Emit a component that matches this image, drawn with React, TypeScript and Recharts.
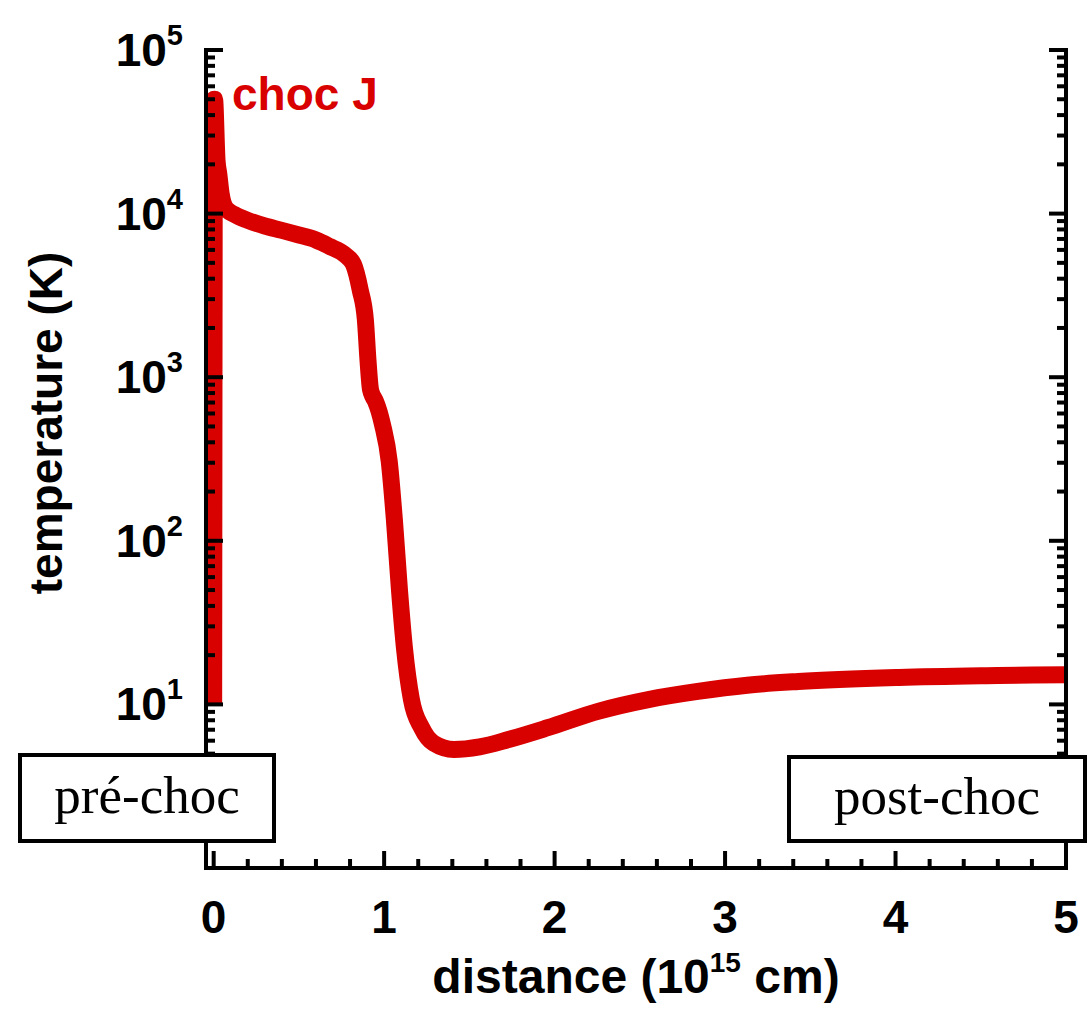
import { LineChart, Line, XAxis, YAxis, Legend } from 'recharts';

// distance in 10^15 cm, temperature in K
const distance = [
  0, 0.005, 0.02, 0.03, 0.045, 0.07, 0.12, 0.2, 0.3, 0.4, 0.5, 0.6, 0.68, 0.77, 0.82, 0.86, 0.89,
  0.905, 0.92, 0.935, 0.95, 0.99, 1.03, 1.06, 1.09, 1.12, 1.16, 1.22, 1.29, 1.41, 1.56, 1.73, 1.96,
  2.26, 2.55, 2.84, 3.13, 3.43, 4.02, 4.6, 5.0,
];
const temperature = [
  10, 50000, 21000, 17500, 13000, 10800, 9900, 9100, 8400, 7900, 7400, 6900, 6300, 5600, 4900, 3400,
  2240, 1280, 840, 760, 710, 515, 305, 135, 50, 21.7, 10.7, 7.2, 5.8, 5.3, 5.5, 6.1, 7.2, 9.1, 10.7,
  12.0, 13.1, 13.8, 14.6, 15.0, 15.2,
];

const xMajorTicks = [0, 1, 2, 3, 4, 5];
const xMinorTicks = [
  0.2, 0.4, 0.6, 0.8, 1.2, 1.4, 1.6, 1.8, 2.2, 2.4, 2.6, 2.8, 3.2, 3.4, 3.6, 3.8, 4.2, 4.4, 4.6, 4.8,
];
const yMajorTicks = [10, 100, 1000, 10000, 100000];
const yExponents = ['1', '2', '3', '4', '5'];
const yMinorTicks = [
  2, 3, 4, 5, 6, 7, 8, 9,
  20, 30, 40, 50, 60, 70, 80, 90,
  200, 300, 400, 500, 600, 700, 800, 900,
  2000, 3000, 4000, 5000, 6000, 7000, 8000, 9000,
  20000, 30000, 40000, 50000, 60000, 70000, 80000, 90000,
];

const data = distance.map((d, i) => ({ d, T: temperature[i] }));

const RED = '#d90000';
const SANS = '"Liberation Sans", Arial, Helvetica, sans-serif';
const SERIF = '"Liberation Serif", "Times New Roman", serif';

const MAJOR_LEN = 17;
const MINOR_LEN = 9;

function XTick({ x, y, payload, side }: any) {
  const major = xMajorTicks.includes(payload.value);
  const len = major ? MAJOR_LEN : MINOR_LEN;
  const dir = side === 'bottom' ? -1 : 1;
  return (
    <g>
      <line x1={x} x2={x} y1={y} y2={y + dir * len} stroke="#000" strokeWidth={4} />
      {side === 'bottom' && major && (
        <text x={x} y={y + 65} textAnchor="middle" fontFamily={SANS} fontWeight={700} fontSize={46} fill="#000">
          {payload.value}
        </text>
      )}
    </g>
  );
}

function YTick({ x, y, payload, side }: any) {
  const idx = yMajorTicks.indexOf(payload.value);
  const major = idx >= 0;
  const len = major ? MAJOR_LEN : MINOR_LEN;
  const dir = side === 'left' ? 1 : -1;
  return (
    <g>
      <line x1={x} x2={x + dir * len} y1={y} y2={y} stroke="#000" strokeWidth={4} />
      {side === 'left' && major && (
        <text x={x - 23} y={y + 16} textAnchor="end" fontFamily={SANS} fontWeight={700} fill="#000">
          <tspan fontSize={46}>10</tspan>
          <tspan fontSize={29} dy={-21}>{yExponents[idx]}</tspan>
        </text>
      )}
    </g>
  );
}

function XTitle({ viewBox }: any) {
  const cx = viewBox.x + viewBox.width / 2;
  return (
    <text x={cx} y={viewBox.y + 125} textAnchor="middle" fontFamily={SANS} fontWeight={700} fill="#000">
      <tspan fontSize={48}>distance (10</tspan>
      <tspan fontSize={28} dy={-21}>15</tspan>
      <tspan fontSize={48} dy={21}> cm)</tspan>
    </text>
  );
}

function YTitle({ viewBox }: any) {
  const cx = viewBox.x + 62;
  const cy = viewBox.y + viewBox.height / 2 - 36;
  return (
    <text
      x={cx}
      y={cy}
      transform={`rotate(-90 ${cx} ${cy})`}
      textAnchor="middle"
      fontFamily={SANS}
      fontWeight={700}
      fontSize={46}
      fill="#000"
    >
      temperature (K)
    </text>
  );
}

const boxStyle: React.CSSProperties = {
  position: 'absolute',
  boxSizing: 'border-box',
  border: '4px solid #000',
  background: '#fff',
  fontFamily: SERIF,
  fontSize: 53,
  color: '#000',
  display: 'flex',
  alignItems: 'center',
  justifyContent: 'center',
  lineHeight: 1,
  paddingBottom: 6,
};

export default function App() {
  const xTicks = [...xMajorTicks, ...xMinorTicks].sort((a, b) => a - b);
  const yTicks = [...yMinorTicks, ...yMajorTicks].sort((a, b) => a - b);
  const axisLine = { stroke: '#000', strokeWidth: 4, strokeLinecap: 'square' as const };

  return (
    <div style={{ position: 'relative', width: 1090, height: 1013, background: '#fff' }}>
      <style>{'body{margin:0}'}</style>
      <LineChart width={1090} height={1013} data={data} margin={{ top: 50, right: 0, bottom: 0, left: 0 }}>
        <XAxis
          xAxisId="b"
          dataKey="d"
          type="number"
          domain={[-0.045, 5]}
          allowDataOverflow
          ticks={xTicks}
          interval={0}
          height={145}
          tickSize={0}
          tickMargin={0}
          tickLine={false}
          axisLine={axisLine}
          tick={(p: any) => <XTick {...p} side="bottom" />}
          label={<XTitle />}
        />
        <XAxis
          xAxisId="t"
          orientation="top"
          dataKey="d"
          type="number"
          domain={[-0.045, 5]}
          allowDataOverflow
          ticks={xTicks}
          interval={0}
          height={0}
          tickSize={0}
          tickMargin={0}
          tickLine={false}
          axisLine={axisLine}
          tick={(p: any) => <XTick {...p} side="top" />}
        />
        <YAxis
          yAxisId="l"
          type="number"
          scale="log"
          domain={[1, 100000]}
          allowDataOverflow
          ticks={yTicks}
          interval={0}
          width={206}
          tickSize={0}
          tickMargin={0}
          tickLine={false}
          axisLine={axisLine}
          tick={(p: any) => <YTick {...p} side="left" />}
          label={<YTitle />}
        />
        <YAxis
          yAxisId="r"
          orientation="right"
          type="number"
          scale="log"
          domain={[1, 100000]}
          allowDataOverflow
          ticks={yTicks}
          interval={0}
          width={24}
          tickSize={0}
          tickMargin={0}
          tickLine={false}
          axisLine={axisLine}
          tick={(p: any) => <YTick {...p} side="right" />}
        />
        <Legend
          layout="horizontal"
          verticalAlign="middle"
          align="center"
          wrapperStyle={{ left: 232, top: 71, width: 'auto', height: 'auto' }}
          content={() => (
            <span style={{ fontFamily: SANS, fontWeight: 700, fontSize: 46, color: RED, lineHeight: 1 }}>
              choc J
            </span>
          )}
        />
        <Line
          xAxisId="b"
          yAxisId="l"
          type="monotone"
          dataKey="T"
          name="choc J"
          stroke={RED}
          strokeWidth={17}
          dot={false}
          activeDot={false}
          isAnimationActive={false}
        />
        <Line
          xAxisId="t"
          yAxisId="r"
          type="monotone"
          dataKey="T"
          stroke="none"
          dot={false}
          activeDot={false}
          legendType="none"
          isAnimationActive={false}
        />
      </LineChart>
      <div style={{ ...boxStyle, left: 18, top: 753, width: 258, height: 90 }}>pré-choc</div>
      <div style={{ ...boxStyle, left: 787, top: 755, width: 300, height: 88 }}>post-choc</div>
    </div>
  );
}
